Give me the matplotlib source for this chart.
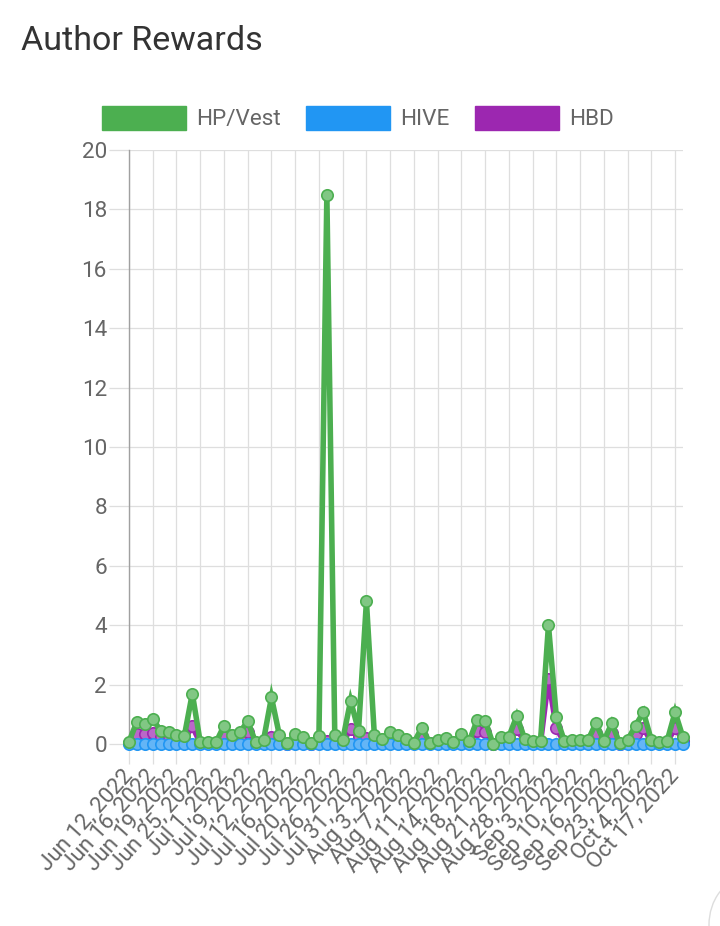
import matplotlib
matplotlib.use("Agg")
import matplotlib.pyplot as plt
from matplotlib.patches import Patch, Circle
import matplotlib.transforms as mtransforms

plt.rcParams['font.family'] = ['Roboto', 'DejaVu Sans']

tick_labels = ["Jun 12, 2022", "Jun 16, 2022", "Jun 19, 2022", "Jun 25, 2022",
               "Jul 1, 2022", "Jul 9, 2022", "Jul 12, 2022", "Jul 16, 2022",
               "Jul 20, 2022", "Jul 26, 2022", "Jul 31, 2022", "Aug 3, 2022",
               "Aug 7, 2022", "Aug 11, 2022", "Aug 14, 2022", "Aug 18, 2022",
               "Aug 21, 2022", "Aug 28, 2022", "Sep 3, 2022", "Sep 10, 2022",
               "Sep 16, 2022", "Sep 23, 2022", "Oct 4, 2022", "Oct 17, 2022"]

hp_vest = [0.08, 0.75, 0.67, 0.83, 0.45, 0.39, 0.30, 0.28, 1.70, 0.06,
           0.06, 0.06, 0.61, 0.30, 0.39, 0.77, 0.06, 0.13, 1.57, 0.30,
           0.02, 0.34, 0.22, 0.02, 0.27, 18.50, 0.30, 0.13, 1.46, 0.45,
           4.80, 0.30, 0.17, 0.39, 0.30, 0.17, 0.05, 0.55, 0.05, 0.13,
           0.19, 0.06, 0.33, 0.11, 0.81, 0.79, 0.00, 0.22, 0.25, 0.94,
           0.17, 0.11, 0.11, 4.00, 0.90, 0.11, 0.13, 0.13, 0.13, 0.70,
           0.10, 0.70, 0.02, 0.13, 0.62, 1.07, 0.13, 0.06, 0.11, 1.07,
           0.22]

hbd = [0.05, 0.35, 0.33, 0.38, 0.22, 0.20, 0.15, 0.14, 0.60, 0.03,
       0.03, 0.03, 0.30, 0.15, 0.20, 0.40, 0.03, 0.06, 0.25, 0.15,
       0.01, 0.17, 0.11, 0.01, 0.13, 0.10, 0.15, 0.06, 0.50, 0.22,
       0.20, 0.15, 0.08, 0.20, 0.15, 0.08, 0.02, 0.27, 0.02, 0.06,
       0.10, 0.03, 0.16, 0.05, 0.45, 0.42, 0.00, 0.11, 0.12, 0.50,
       0.08, 0.05, 0.05, 2.20, 0.53, 0.05, 0.06, 0.06, 0.06, 0.38,
       0.05, 0.38, 0.01, 0.06, 0.35, 0.55, 0.06, 0.03, 0.05, 0.55,
       0.11]

hive = [0.0] * len(hp_vest)

x = list(range(len(hp_vest)))
tick_step = 3

W, H = 720, 926
fig = plt.figure(figsize=(W / 100, H / 100), dpi=100)
ax = fig.add_axes([129 / W, 1 - 744 / H, (683 - 129) / W, (744 - 150) / H])

series = [
    ("HBD", hbd, "#9C27B0", "#BA68C8", 3),
    ("HIVE", hive, "#2196F3", "#64B5F6", 4),
    ("HP/Vest", hp_vest, "#4CAF50", "#81C784", 5),
]
for name, vals, col, fill, z in series:
    ax.plot(x, vals, color=col, lw=4.0, marker='o', ms=8.2, mfc=fill,
            mec=col, mew=1.2, zorder=z, clip_on=False, solid_joinstyle='miter')

ax.set_xlim(0, len(x) - 1)
ax.set_ylim(0, 20)
ax.set_yticks(range(0, 21, 2))
ax.set_xticks(x[::tick_step])
ax.set_xticklabels(tick_labels, rotation=48, ha='right', va='center',
                   rotation_mode='anchor')
offset = mtransforms.ScaledTranslation(6 / 100, 0, fig.dpi_scale_trans)
for lab in ax.get_xticklabels():
    lab.set_transform(lab.get_transform() + offset)

gridc = '#dedede'
ax.grid(True, color=gridc, lw=0.9, zorder=0)
ax.set_axisbelow(True)
ax.tick_params(axis='both', length=14.4, width=0.9, color=gridc,
               labelsize=16.2, labelcolor='#666666')
ax.tick_params(axis='y', pad=1.5)
ax.tick_params(axis='x', pad=6)
for s in ['top', 'right']:
    ax.spines[s].set_visible(False)
ax.spines['left'].set_color('#a0a0a0')
ax.spines['bottom'].set_color('#a0a0a0')
ax.spines['left'].set_linewidth(1.0)
ax.spines['bottom'].set_linewidth(1.0)

fig.text(21 / W, 1 - 50 / H, "Author Rewards", fontsize=24.5, color='#333333',
         va='baseline', ha='left')

handles = [Patch(facecolor=c, edgecolor=c, label=n)
           for n, _, c, _, _ in reversed(series)]
fig.legend(handles=handles, loc='center', bbox_to_anchor=(358 / W, 1 - 118 / H),
           ncol=3, frameon=False, fontsize=16.2, labelcolor='#666666',
           handlelength=3.75, handleheight=1.3, handletextpad=0.45,
           columnspacing=1.1)

fig.patches.append(Circle((745 / W, 1 - 925 / H), 0.05, transform=fig.transFigure,
                          facecolor='white', edgecolor='#dddddd', lw=1.0))

fig.savefig("out.png", dpi=100, facecolor='white')
